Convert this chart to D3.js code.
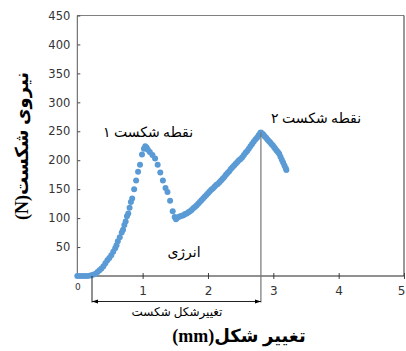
<!DOCTYPE html>
<html><head><meta charset="utf-8">
<script src="https://cdn.jsdelivr.net/npm/d3@7"></script>
<style>body{margin:0;background:#fff}svg{display:block}</style>
</head><body>
<svg id="c" width="406" height="351"></svg>
<script>
// Deformation (mm)
const deformation = [0,0.04,0.08,0.12,0.16,0.2,0.24,0.28,0.31,0.34,0.37,0.40,0.43,0.46,0.49,0.52,0.55,0.58,0.60,0.62,0.65,0.68,0.70,0.72,0.74,0.76,0.78,0.80,0.82,0.84,0.87,0.90,0.93,0.96,0.99,1.02,1.04,1.06,1.08,1.11,
1.15,1.19,1.23,1.27,1.31,1.35,1.38,1.42,1.46,1.49,
1.51,1.525,1.55,1.575,1.60,1.625,1.65,1.675,1.70,1.725,1.75,1.775,1.80,1.825,1.85,1.875,1.90,1.925,1.95,1.975,2.00,2.025,2.05,2.075,2.10,2.125,2.15,2.175,2.20,2.225,2.25,2.275,2.30,2.325,2.35,2.375,2.40,2.425,2.45,2.475,2.50,2.525,2.55,2.575,2.60,2.625,2.65,2.675,2.70,2.725,2.75,2.775,2.80,2.81,
2.83,2.85,2.87,2.89,2.91,2.93,2.95,2.97,2.99,3.01,3.03,3.05,3.07,3.09,3.11,3.13,3.15,3.17,3.19,3.20];
// Breaking force (N)
const force = [0,0,0,0,0,1,2,4,7,10,13,17,22,27,31,36,42,48,53,60,67,75,80,88,94,103,108,118,128,134,150,165,180,192,210,220,224,222,218,214,
209,203,192,179,165,152,145,130,112,102,
98,100,102,103,104,105,107,108,110,112,114,117,119,122,125,128,131,134,137,140,143,146,149,151,154,157,159,162,165,168,171,175,178,181,185,188,191,194,197,200,202,205,209,213,216,220,224,228,232,236,239,243,247,248,
246,244,241,239,236,233,231,228,226,223,220,217,214,211,206,201,196,191,186,183];
const yTicks = [50,100,150,200,250,300,350,400,450];
const xTicks = [0,1,2,3,4,5];
const breakStart = 0.225, breakEnd = 2.81, breakPeak = 248;

const svg = d3.select('#c');
const L = 77.3, R = 404, T = 15.5, B = 276;
const x = d3.scaleLinear().domain([0,5]).range([L,R]);
const y = d3.scaleLinear().domain([0,450]).range([B,T]);
const sans = 'DejaVu Sans, sans-serif';
const serif = 'Liberation Serif, Times New Roman, DejaVu Sans, serif';

svg.append('defs').append('marker').attr('id','ah').attr('viewBox','0 0 10 10')
  .attr('refX',10).attr('refY',5).attr('markerWidth',6).attr('markerHeight',6)
  .attr('orient','auto-start-reverse').append('path').attr('d','M0,1.5L10,5L0,8.5Z').attr('fill','#000');

// frame
svg.append('line').attr('x1',L).attr('x2',R).attr('y1',T).attr('y2',T).attr('stroke','#808080').attr('stroke-width',1);
svg.append('line').attr('x1',R).attr('x2',R).attr('y1',T).attr('y2',B).attr('stroke','#333').attr('stroke-width',1);

// y axis
const ya = svg.append('g').attr('transform',`translate(${L},0)`)
  .call(d3.axisLeft(y).tickValues(yTicks).tickFormat(d3.format('d')).tickSize(3).tickPadding(4));
ya.select('.domain').remove();
ya.selectAll('.tick line').attr('x2',3).attr('stroke','#444');
ya.selectAll('text').attr('font-family',sans).attr('font-size',11.5).attr('fill','#333');
svg.append('line').attr('x1',L).attr('x2',L).attr('y1',T).attr('y2',B).attr('stroke','#555');

// x axis
const xa = svg.append('g').attr('transform',`translate(0,${B})`)
  .call(d3.axisBottom(x).tickValues(xTicks).tickFormat(d3.format('d')).tickSize(3).tickPadding(7));
xa.select('.domain').remove();
xa.selectAll('.tick line').attr('y1',-3).attr('stroke','#444');
xa.selectAll('text').attr('font-family',sans).attr('font-size',12).attr('fill','#333');
xa.selectAll('.tick').filter(d=>d===0).select('text').attr('font-size',9).attr('dy','0.4em');
xa.selectAll('.tick').filter(d=>d===0).select('line').remove();
xa.selectAll('.tick').filter(d=>d===5).select('text').attr('text-anchor','end').attr('dx','1');
svg.append('line').attr('x1',L).attr('x2',R).attr('y1',B).attr('y2',B).attr('stroke','#222');

// points
svg.append('g').selectAll('circle').data(deformation.map((d,i)=>[d,force[i]])).join('circle')
  .attr('cx',d=>x(d[0])).attr('cy',d=>y(d[1])).attr('r',3).attr('fill','#5B9BD5');

// break markers
const yArrow = 301.5;
svg.append('line').attr('x1',x(breakEnd)).attr('x2',x(breakEnd)).attr('y1',y(breakPeak)).attr('y2',yArrow+1)
  .attr('stroke','#777').attr('stroke-width',1.2);
svg.append('line').attr('x1',x(breakStart)).attr('x2',x(breakStart)).attr('y1',B).attr('y2',yArrow+1)
  .attr('stroke','#222').attr('stroke-width',1);
svg.append('line').attr('x1',x(breakStart)).attr('x2',x(breakEnd)).attr('y1',yArrow).attr('y2',yArrow)
  .attr('stroke','#222').attr('stroke-width',1)
  .attr('marker-start','url(#ah)').attr('marker-end','url(#ah)');

// texts
function t(xp,yp,s,size,weight,rot){
  const e = svg.append('text').attr('x',xp).attr('y',yp).attr('text-anchor','middle')
    .attr('direction','rtl').attr('font-family',serif).attr('font-size',size).attr('font-weight',weight||'normal').attr('fill','#000').text(s);
  if(rot) e.attr('transform',`rotate(${rot},${xp},${yp})`);
  return e;
}
t(148,137,'نقطه شکست ۱',14);
t(316,123,'نقطه شکست ۲',14);
t(184,257,'انرژی',14);
t(177,316,'تغییرشکل شکست',12);
t(239,342,'تغییر شکل(mm)',18,'bold');
t(28,146,'نیروی شکست(N)',18,'bold',-90);
</script>
</body></html>
